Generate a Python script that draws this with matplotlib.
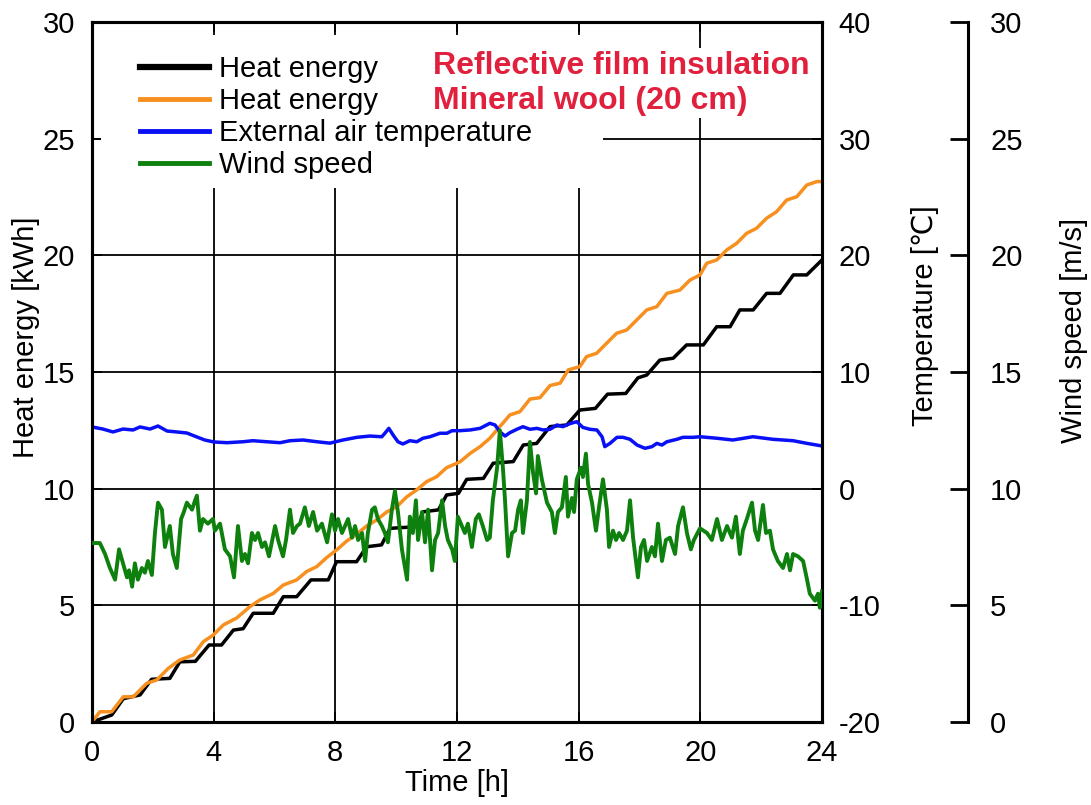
import matplotlib
matplotlib.use('Agg')
import matplotlib.pyplot as plt
from matplotlib.patches import Rectangle

plt.rcParams['font.family'] = ['Liberation Sans', 'DejaVu Sans']
plt.rcParams['font.size'] = 21
plt.rcParams['axes.unicode_minus'] = False

#%% data

# heat energy, reflective film insulation (black)
film_t = [0.00, 0.65, 1.03, 1.58, 1.96, 2.56, 2.89, 3.40, 3.85, 4.26,
          4.65, 4.97, 5.30, 5.96, 6.29, 6.73, 7.20, 7.77, 8.04, 8.70,
          9.03, 9.52, 9.80, 10.67, 10.89, 11.39, 11.66, 12.05, 12.32, 12.87,
          13.19, 13.85, 14.18, 14.62, 15.06, 15.61, 16.04, 16.55, 16.95, 17.55,
          17.95, 18.24, 18.67, 19.11, 19.55, 20.10, 20.54, 20.98, 21.30, 21.74,
          22.18, 22.62, 23.06, 23.50, 24.00]
film_e = [0.00, 0.30, 1.00, 1.16, 1.83, 1.87, 2.58, 2.60, 3.30, 3.30,
          3.94, 4.00, 4.66, 4.66, 5.37, 5.37, 6.09, 6.09, 6.87, 6.87,
          7.51, 7.59, 8.30, 8.37, 9.01, 9.09, 9.73, 9.80, 10.40, 10.44,
          11.09, 11.16, 11.87, 11.94, 12.66, 12.73, 13.37, 13.44, 14.05, 14.08,
          14.75, 14.87, 15.51, 15.59, 16.16, 16.16, 16.94, 16.94, 17.66, 17.66,
          18.37, 18.37, 19.16, 19.16, 19.80]

# heat energy, mineral wool 20 cm (orange)
wool_t = [0.00, 0.26, 0.65, 1.03, 1.36, 1.80, 2.13, 2.51, 2.89, 3.33,
          3.66, 3.99, 4.32, 4.76, 5.19, 5.52, 5.96, 6.29, 6.73, 7.06,
          7.39, 7.72, 8.04, 8.37, 8.70, 9.03, 9.36, 9.69, 10.02, 10.35,
          10.67, 11.00, 11.33, 11.66, 12.10, 12.43, 12.76, 13.08, 13.41, 13.74,
          14.07, 14.40, 14.73, 15.06, 15.39, 15.66, 16.04, 16.26, 16.59, 16.92,
          17.25, 17.58, 17.91, 18.24, 18.57, 18.90, 19.33, 19.66, 19.99, 20.21,
          20.54, 20.87, 21.20, 21.52, 21.85, 22.18, 22.51, 22.84, 23.17, 23.50,
          23.83, 24.00]
wool_e = [0.00, 0.44, 0.44, 1.08, 1.08, 1.66, 1.80, 2.30, 2.66, 2.87,
          3.44, 3.73, 4.16, 4.46, 4.94, 5.23, 5.51, 5.87, 6.09, 6.45,
          6.66, 7.05, 7.37, 7.75, 8.05, 8.40, 8.66, 9.00, 9.23, 9.65,
          9.94, 10.30, 10.51, 10.90, 11.15, 11.51, 11.80, 12.16, 12.66, 13.16,
          13.30, 13.84, 13.90, 14.42, 14.52, 15.09, 15.23, 15.66, 15.80, 16.23,
          16.66, 16.80, 17.23, 17.66, 17.80, 18.37, 18.51, 18.94, 19.16, 19.66,
          19.80, 20.23, 20.52, 20.94, 21.16, 21.59, 21.87, 22.37, 22.51, 23.01,
          23.16, 23.16]

# external air temperature [C]
temp_t = [0.00, 0.36, 0.69, 1.02, 1.35, 1.58, 1.91, 2.17, 2.47, 2.79,
          3.12, 3.45, 3.71, 4.01, 4.44, 4.96, 5.29, 5.75, 6.18, 6.51,
          6.94, 7.40, 7.82, 8.25, 8.71, 9.14, 9.53, 9.63, 9.76, 9.90,
          10.06, 10.22, 10.45, 10.68, 10.88, 11.11, 11.44, 11.67, 11.84, 12.10,
          12.43, 12.76, 13.08, 13.25, 13.41, 13.58, 13.74, 13.97, 14.17, 14.40,
          14.63, 14.83, 15.06, 15.29, 15.48, 15.71, 15.94, 16.14, 16.37, 16.60,
          16.77, 16.86, 17.03, 17.26, 17.46, 17.69, 17.92, 18.18, 18.41, 18.57,
          18.74, 18.90, 19.23, 19.43, 19.76, 19.99, 20.55, 21.07, 21.73, 22.39,
          23.05, 23.51, 24.00]
temp_c = [5.29, 5.11, 4.86, 5.11, 5.03, 5.29, 5.11, 5.37, 4.94, 4.86,
          4.77, 4.43, 4.17, 4.00, 3.94, 4.02, 4.11, 4.02, 3.94, 4.11,
          4.17, 4.02, 3.90, 4.17, 4.40, 4.51, 4.45, 4.75, 5.17, 4.60,
          4.02, 3.83, 4.11, 4.02, 4.32, 4.45, 4.75, 4.75, 4.97, 4.97,
          5.03, 5.17, 5.60, 5.46, 4.88, 4.51, 4.80, 5.09, 5.31, 5.09,
          5.17, 5.03, 5.09, 5.46, 5.31, 5.57, 5.74, 5.25, 5.09, 5.03,
          4.45, 3.60, 3.88, 4.40, 4.40, 4.23, 3.74, 3.46, 3.60, 3.88,
          3.74, 4.02, 4.23, 4.40, 4.40, 4.45, 4.32, 4.17, 4.45, 4.23,
          4.11, 3.88, 3.66]

# wind speed [m/s]
wind_t = [0.07, 0.26, 0.43, 0.59, 0.76, 0.89, 1.02, 1.15, 1.22, 1.32,
          1.41, 1.51, 1.64, 1.74, 1.84, 1.97, 2.07, 2.17, 2.30, 2.40,
          2.56, 2.66, 2.79, 2.93, 3.02, 3.12, 3.29, 3.39, 3.45, 3.55,
          3.65, 3.81, 3.98, 4.04, 4.21, 4.37, 4.54, 4.67, 4.80, 4.93,
          5.03, 5.13, 5.26, 5.36, 5.46, 5.59, 5.69, 5.82, 6.02, 6.12,
          6.28, 6.38, 6.51, 6.61, 6.74, 6.84, 7.00, 7.13, 7.27, 7.40,
          7.56, 7.73, 7.89, 7.99, 8.09, 8.22, 8.32, 8.42, 8.55, 8.65,
          8.75, 8.88, 8.98, 9.07, 9.21, 9.30, 9.40, 9.53, 9.63, 9.73,
          9.86, 9.96, 10.06, 10.19, 10.36, 10.45, 10.55, 10.65, 10.72, 10.85,
          10.95, 11.05, 11.18, 11.28, 11.38, 11.51, 11.61, 11.70, 11.84, 11.93,
          12.03, 12.16, 12.26, 12.36, 12.49, 12.62, 12.72, 12.85, 12.99, 13.08,
          13.18, 13.32, 13.41, 13.51, 13.58, 13.68, 13.81, 13.91, 14.01, 14.10,
          14.17, 14.30, 14.40, 14.50, 14.60, 14.66, 14.79, 14.96, 15.12, 15.22,
          15.32, 15.45, 15.58, 15.65, 15.78, 15.85, 15.94, 16.08, 16.14, 16.24,
          16.31, 16.44, 16.57, 16.67, 16.80, 16.93, 17.00, 17.13, 17.23, 17.33,
          17.46, 17.59, 17.69, 17.79, 17.95, 18.05, 18.15, 18.25, 18.41, 18.51,
          18.61, 18.74, 18.87, 19.00, 19.17, 19.27, 19.43, 19.56, 19.69, 19.79,
          19.99, 20.22, 20.38, 20.55, 20.71, 20.88, 21.04, 21.17, 21.30, 21.40,
          21.53, 21.70, 21.80, 21.90, 22.06, 22.16, 22.29, 22.39, 22.55, 22.72,
          22.85, 22.95, 23.05, 23.21, 23.38, 23.51, 23.60, 23.77, 23.87, 23.93,
          24.00]
wind_v = [7.67, 7.67, 7.2, 6.6, 6.1, 7.4, 6.8, 6.2, 6.5, 5.8,
          6.8, 6.1, 6.6, 6.4, 6.9, 6.3, 8.1, 9.4, 9.1, 7.5,
          8.4, 7.2, 6.6, 8.7, 9.0, 9.4, 9.1, 9.5, 9.7, 8.2,
          8.7, 8.5, 8.7, 8.2, 8.5, 7.4, 7.1, 6.2, 8.4, 6.9,
          7.2, 6.8, 8.1, 7.8, 8.1, 7.5, 7.7, 7.1, 8.4, 7.8,
          7.1, 7.8, 9.1, 8.1, 8.4, 8.5, 9.2, 8.4, 9.0, 8.2,
          8.5, 7.7, 8.9, 8.2, 8.7, 8.1, 8.4, 8.7, 7.9, 8.4,
          7.8, 8.1, 6.9, 8.1, 9.1, 9.2, 8.7, 8.4, 8.1, 7.7,
          9.1, 9.9, 9.0, 7.4, 6.1, 8.8, 8.1, 9.5, 7.8, 9.0,
          7.7, 9.1, 6.5, 7.8, 8.1, 9.5, 8.4, 7.8, 7.4, 6.9,
          8.8, 8.4, 8.1, 8.5, 7.5, 8.7, 8.9, 8.4, 7.8, 7.9,
          9.5, 10.9, 12.5, 10.9, 9.5, 7.1, 8.1, 8.2, 9.1, 9.5,
          8.1, 9.5, 12.0, 10.7, 9.8, 11.4, 10.4, 9.4, 9.0, 8.1,
          9.0, 9.2, 10.5, 8.8, 9.6, 9.0, 10.4, 10.9, 10.5, 11.5,
          10.2, 9.4, 8.2, 9.2, 10.4, 9.1, 7.5, 8.2, 7.8, 8.1,
          7.8, 8.2, 9.5, 7.9, 6.2, 7.5, 7.8, 6.9, 7.5, 7.1,
          8.5, 6.9, 7.8, 7.9, 7.2, 8.4, 9.2, 8.1, 7.4, 7.8,
          8.3, 8.1, 7.8, 8.7, 7.8, 8.4, 7.9, 8.8, 7.2, 8.2,
          8.7, 9.4, 8.2, 7.8, 9.3, 8.1, 8.2, 7.4, 6.9, 6.6,
          7.2, 6.5, 7.2, 7.1, 6.9, 6.1, 5.5, 5.2, 5.5, 4.9,
          5.6]

x_ticks = [0, 4, 8, 12, 16, 20, 24]
energy_ticks = [0, 5, 10, 15, 20, 25, 30]
temp_ticks = [-20, -10, 0, 10, 20, 30, 40]
wind_ticks = [0, 5, 10, 15, 20, 25, 30]

#%% plot
fig = plt.figure(figsize=(10.91, 8.05), dpi=100)
ax = fig.add_axes([0.0843, 0.1031, 0.6691, 0.8696])
ax2 = ax.twinx()
ax3 = ax.twinx()

ax.set_axisbelow(True)
ax.grid(True, color='black', linewidth=1.3)

l1, = ax.plot(film_t, film_e, color='black', linewidth=2.5, label='Heat energy')
l2, = ax.plot(wool_t, wool_e, color='#f7901e', linewidth=2.5, label='Heat energy')
l3, = ax2.plot(temp_t, temp_c, color='#0a10f5', linewidth=2.5,
               label='External air temperature')
l4, = ax3.plot(wind_t, wind_v, color='#0d800d', linewidth=2.8, label='Wind speed')

ax.set_xlim(0, 24)
ax.set_ylim(0, 30)
ax2.set_ylim(-20, 40)
ax3.set_ylim(0, 30)
ax.set_xticks(x_ticks)
ax.set_yticks(energy_ticks)
ax2.set_yticks(temp_ticks)
ax3.set_yticks(wind_ticks)

for s in ax.spines.values():
    s.set_linewidth(2.2)
for s in ax2.spines.values():
    s.set_linewidth(2.2)
ax.tick_params(direction='in', length=7, width=1.3, pad=12, top=True)
ax2.tick_params(direction='in', length=7, width=1.3, pad=12)

ax3.spines['right'].set_position(('axes', 1.2))
for name in ['left', 'top', 'bottom']:
    ax3.spines[name].set_visible(False)
ax3.spines['right'].set_linewidth(2.2)
ax3.tick_params(direction='in', length=13, width=2, pad=16)

ax.set_xlabel('Time [h]', labelpad=2)
ax.set_ylabel('Heat energy [kWh]', labelpad=2, y=0.55)
ax2.set_ylabel('Temperature [\u2103]', labelpad=22, y=0.58)
ax3.set_ylabel('Wind speed [m/s]', labelpad=27, y=0.56)

# white boxes behind legend and annotation
ax.add_patch(Rectangle((0.012, 0.763), 0.688, 0.218, transform=ax.transAxes,
                       facecolor='white', edgecolor='none', zorder=1))
ax.add_patch(Rectangle((0.455, 0.863), 0.54, 0.1, transform=ax.transAxes,
                       facecolor='white', edgecolor='none', zorder=1))

leg = ax3.legend(handles=[l1, l2, l3, l4], loc='upper left',
                 bbox_to_anchor=(0.066, 0.953), frameon=False, borderaxespad=0,
                 borderpad=0, labelspacing=0.14, handlelength=2.35,
                 handletextpad=0.35, fontsize=21)
leg.legend_handles[0].set_linewidth(4.5)
for h in leg.legend_handles[1:]:
    h.set_linewidth(3.5)

ax3.text(0.467, 0.958, 'Reflective film insulation\nMineral wool (20 cm)',
         transform=ax.transAxes, color='#e0203c', fontsize=23,
         fontweight='bold', va='top', ha='left', linespacing=1.18)

fig.savefig('out.png', dpi=100)
